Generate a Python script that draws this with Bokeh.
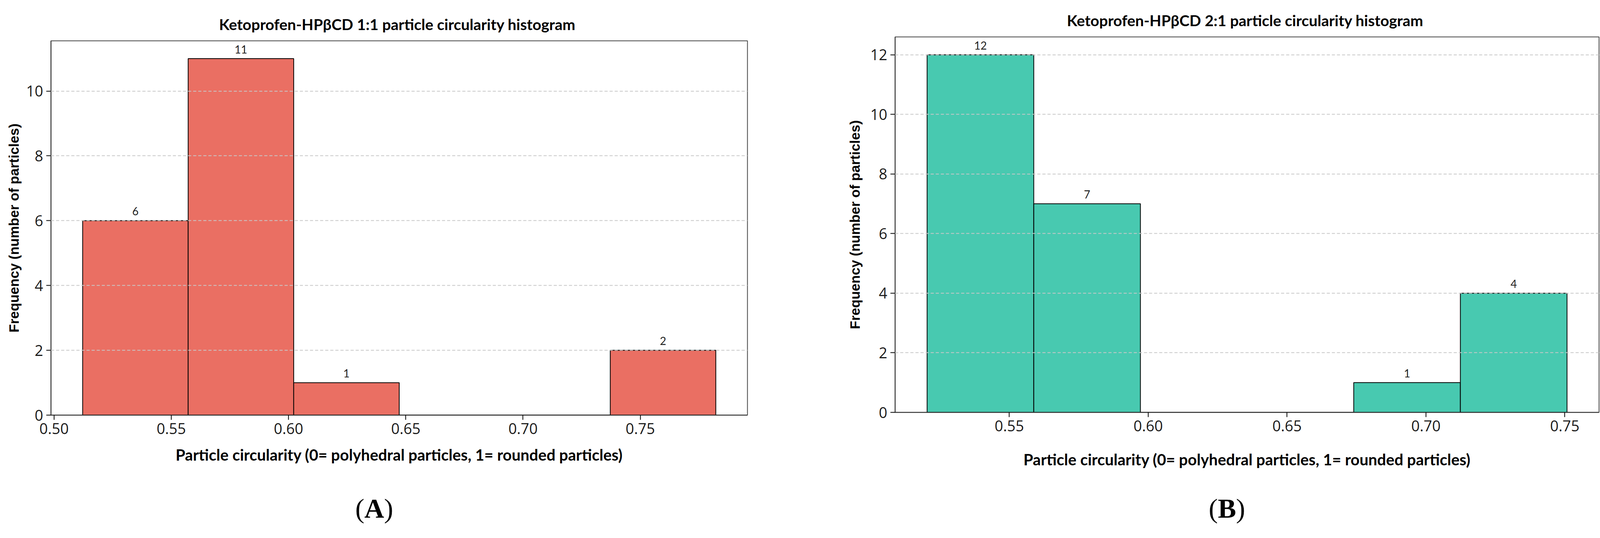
from bokeh.plotting import figure
from bokeh.models import Range1d, FixedTicker, PrintfTickFormatter, Div, ColumnDataSource
from bokeh.layouts import row, column
from bokeh.core.properties import value
from bokeh.embed import file_html
from bokeh.resources import INLINE

# panel A - Ketoprofen-HPbCD 1:1
edges_a = [0.5122, 0.5572, 0.6022, 0.6472, 0.6922, 0.7372, 0.7822]
counts_a = [6, 11, 1, 0, 0, 2]
xticks_a = [0.50, 0.55, 0.60, 0.65, 0.70, 0.75]
yticks_a = [0, 2, 4, 6, 8, 10]

# panel B - Ketoprofen-HPbCD 2:1
edges_b = [0.5204, 0.5588, 0.5972, 0.6356, 0.6740, 0.7124, 0.7508]
counts_b = [12, 7, 0, 0, 1, 4]
xticks_b = [0.55, 0.60, 0.65, 0.70, 0.75]
yticks_b = [0, 2, 4, 6, 8, 10, 12]

title_a = "Ketoprofen-HPβCD  1:1 particle circularity histogram"
title_b = "Ketoprofen-HPβCD  2:1 particle circularity histogram"
xlabel = "Particle circularity (0= polyhedral particles, 1= rounded particles)"
ylabel = "Frequency (number of particles)"


def make_hist(edges, counts, xticks, yticks, title, color, width, height,
              borders, tick_standoff, xlabel_standoff, ylabel_standoff):
    span = edges[-1] - edges[0]
    xr = Range1d(edges[0] - 0.05 * span, edges[-1] + 0.05 * span)
    yr = Range1d(0, max(counts) * 1.05)
    p = figure(width=width, height=height, x_range=xr, y_range=yr,
               output_backend="svg", toolbar_location=None, tools="")
    p.min_border_left, p.min_border_right, p.min_border_top, p.min_border_bottom = borders

    src = ColumnDataSource(data=dict(left=edges[:-1], right=edges[1:], top=counts))
    p.quad(left="left", right="right", top="top", bottom=0, source=src,
           fill_color=color, line_color="black", line_width=2)

    # count labels above non-empty bins
    lx, ly, lt = [], [], []
    for i, c in enumerate(counts):
        if c > 0:
            lx.append((edges[i] + edges[i + 1]) / 2)
            ly.append(c)
            lt.append(str(c))
    p.text(x=lx, y=ly, text=lt, text_align="center", text_baseline="middle",
           y_offset=-24, text_font=value("Lato"), text_font_size="28px",
           text_color="#222222")

    p.title.text = title
    p.title.align = "center"
    p.title.text_font = "Lato"
    p.title.text_font_size = "39px"
    p.title.text_font_style = "bold"
    p.title.text_color = "black"
    p.title.standoff = 40

    p.xaxis.ticker = FixedTicker(ticks=xticks)
    p.yaxis.ticker = FixedTicker(ticks=yticks)
    p.xaxis.formatter = PrintfTickFormatter(format="%.2f")
    p.xaxis.axis_label = xlabel
    p.yaxis.axis_label = ylabel
    p.xaxis.axis_label_text_font = "Lato"
    p.xaxis.axis_label_text_font_size = "40px"
    p.xaxis.axis_label_text_font_style = "bold"
    p.yaxis.axis_label_text_font = "Liberation Sans"
    p.yaxis.axis_label_text_font_size = "35px"
    p.yaxis.axis_label_text_font_style = "bold"
    p.xaxis.axis_label_standoff = xlabel_standoff
    p.yaxis.axis_label_standoff = ylabel_standoff
    for ax in (p.xaxis, p.yaxis):
        ax.major_label_text_font = "Open Sans"
        ax.major_label_text_font_size = "38px"
        ax.major_label_text_color = "#1a1a1a"
        ax.axis_label_text_color = "black"
        ax.major_tick_in = 0
        ax.major_tick_out = 12
        ax.major_tick_line_width = 2
        ax.major_tick_line_color = "black"
        ax.minor_tick_line_color = None
        ax.axis_line_color = "#333333"
        ax.axis_line_width = 2
        ax.major_label_standoff = tick_standoff

    p.xgrid.grid_line_color = None
    p.ygrid.grid_line_color = "#c8c8c8"
    p.ygrid.grid_line_width = 2
    p.ygrid.grid_line_dash = "8 5"
    p.ygrid.level = "annotation"
    p.outline_line_color = "#444444"
    p.outline_line_width = 2
    p.background_fill_color = "white"
    p.border_fill_color = "white"
    return p


pa = make_hist(edges_a, counts_a, xticks_a, yticks_a, title_a, "#EA6F63",
               2142, 1202, (130, 229, 104, 140), 8, 26, 9)
pb = make_hist(edges_b, counts_b, xticks_b, yticks_b, title_b, "#48C9B0",
               1970, 1202, (149, 19, 94, 144), 8, 45, 17)

lab_style = {"font-family": "Liberation Serif", "font-size": "70px",
             "line-height": "70px", "text-align": "center", "color": "black"}
da = Div(text="(<b>A</b>)", width=200, height=70, margin=(65, 0, 0, 858), styles=lab_style)
db = Div(text="(<b>B</b>)", width=200, height=70, margin=(65, 0, 0, 899), styles=lab_style)

layout = row(column(pa, da), column(pb, db))

open("out.html", "w").write(file_html(layout, INLINE))
